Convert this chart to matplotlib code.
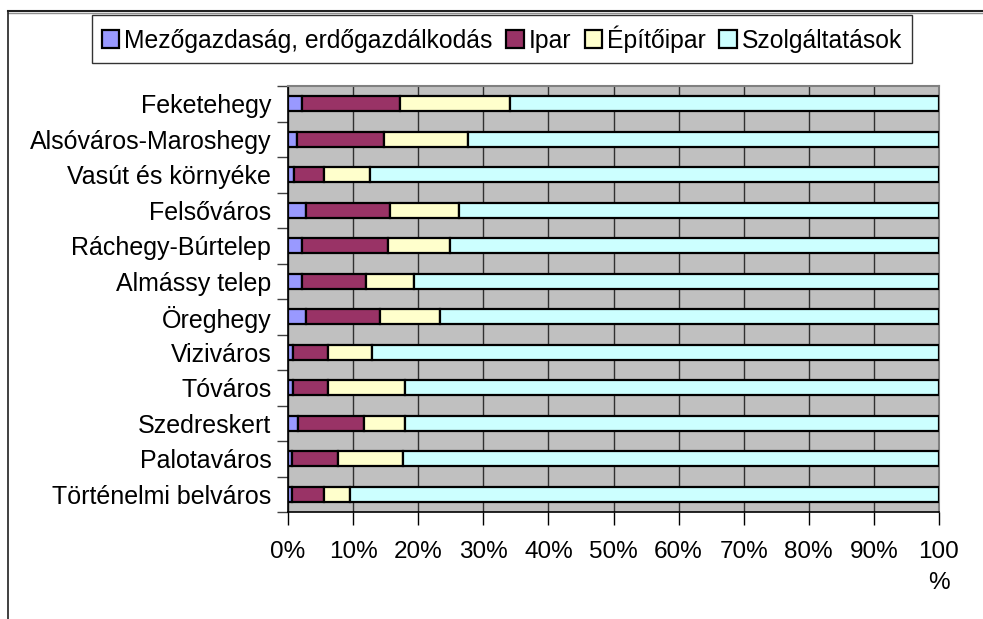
import matplotlib.pyplot as plt
import numpy as np
from matplotlib.lines import Line2D

plt.rcParams['font.family'] = ['Liberation Sans', 'DejaVu Sans']

# teruletek, felulrol lefele
teruletek = ['Feketehegy', 'Alsóváros-Maroshegy', 'Vasút és környéke', 'Felsőváros',
             'Ráchegy-Búrtelep', 'Almássy telep', 'Öreghegy', 'Viziváros',
             'Tóváros', 'Szedreskert', 'Palotaváros', 'Történelmi belváros']
agazatok = ['Mezőgazdaság, erdőgazdálkodás', 'Ipar', 'Építőipar', 'Szolgáltatások']
mezogazdasag = [2.1, 1.4, 0.9, 2.8, 2.1, 2.1, 2.8, 0.8, 0.7, 1.5, 0.6, 0.6]
ipar = [15.1, 13.3, 4.6, 12.9, 13.3, 9.9, 11.3, 5.4, 5.5, 10.2, 7.1, 4.9]
epitoipar = [16.9, 12.9, 7.1, 10.5, 9.5, 7.4, 9.2, 6.7, 11.7, 6.2, 9.9, 4.0]
szolgaltatas = [65.9, 72.4, 87.4, 73.8, 75.1, 80.6, 76.7, 87.1, 82.1, 82.1, 82.4, 90.5]
szinek = ['#9999FF', '#993366', '#FFFFCC', '#CCFFFF']
x_cimkek = ['0%', '10%', '20%', '30%', '40%', '50%', '60%', '70%', '80%', '90%', '100\n%']

fig = plt.figure(figsize=(9.83, 6.19), dpi=100)
ax = fig.add_axes([288/983, 1 - 512/619, 651/983, 426/619])
ax.set_facecolor('#C0C0C0')

y = np.arange(len(teruletek))[::-1]
bal = np.zeros(len(teruletek))
for ertek, nev, szin in zip([mezogazdasag, ipar, epitoipar, szolgaltatas], agazatok, szinek):
    ertek = np.array(ertek)
    ax.barh(y, ertek, left=bal, height=0.43, color=szin, edgecolor='black',
            linewidth=1.6, label=nev, zorder=3)
    bal += ertek

ax.set_xlim(0, 100)
ax.set_ylim(-0.5, len(teruletek) - 0.5)
ax.set_xticks(np.arange(0, 101, 10))
ax.set_xticklabels(x_cimkek, fontsize=17.5, linespacing=1.5, va='top')
ax.set_yticks(y)
ax.set_yticklabels(teruletek, fontsize=18)
ax.set_yticks(np.arange(-0.5, len(teruletek), 1), minor=True)
ax.tick_params(axis='y', which='major', length=0, pad=12)
ax.tick_params(axis='y', which='minor', length=8, width=1, color='#404040')
ax.tick_params(axis='x', length=9, width=1, pad=12, color='black')
ax.xaxis.grid(True, color='#303030', linewidth=1, zorder=1)
ax.set_axisbelow(True)
for s in ['top', 'right']:
    ax.spines[s].set_color('#808080')
    ax.spines[s].set_linewidth(1.5)
for s in ['left', 'bottom']:
    ax.spines[s].set_color('black')
    ax.spines[s].set_linewidth(1.2)

leg = fig.legend(loc='center', bbox_to_anchor=(502/983, 1 - 39/619), ncol=4,
                 fontsize=17.8, frameon=True, fancybox=False,
                 edgecolor='black', handlelength=0.7, handleheight=0.7,
                 handletextpad=0.2, columnspacing=0.55, borderpad=0.4, borderaxespad=0)
leg.get_frame().set_linewidth(1)

# kulso keret
fig.add_artist(Line2D([8/983, 1], [1 - 11/619, 1 - 11/619], color='#202020', lw=1.5))
fig.add_artist(Line2D([8/983, 1], [1 - 13/619, 1 - 13/619], color='#909090', lw=1))
fig.add_artist(Line2D([8/983, 8/983], [0, 1 - 11/619], color='#202020', lw=1.2))

fig.savefig('out.png', dpi=100)
